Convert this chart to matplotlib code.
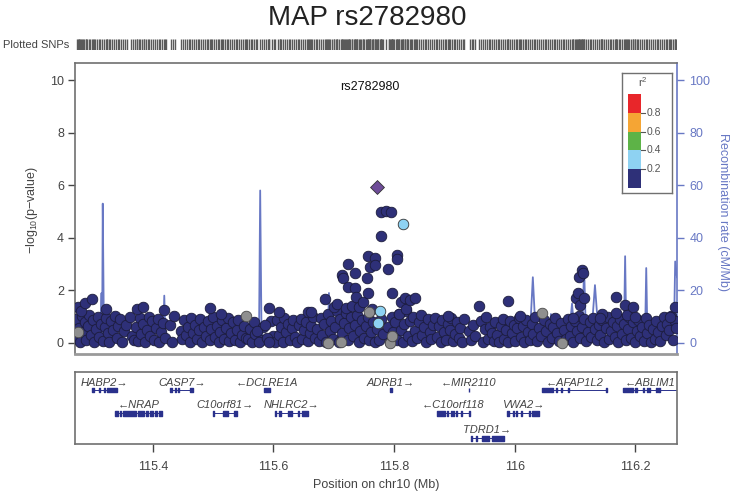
import numpy as np
import matplotlib
matplotlib.use('Agg')
import matplotlib.pyplot as plt

plt.rcParams['font.family'] = ['Liberation Sans', 'DejaVu Sans']
plt.rcParams['mathtext.fontset'] = 'custom'
plt.rcParams['mathtext.rm'] = 'Liberation Sans'
plt.rcParams['mathtext.it'] = 'Liberation Sans:italic'

# ---- data ----
lead_name = 'rs2782980'
lead_pos = 115.771
lead_logp = 5.92

# r2 < 0.2 SNPs (bulk, low signal)
base_pos = [115.272, 115.274, 115.277, 115.279, 115.282, 115.285, 115.287, 115.290, 115.292, 115.295,
            115.298, 115.301, 115.303, 115.306, 115.309, 115.311, 115.314, 115.317, 115.320, 115.323,
            115.326, 115.328, 115.331, 115.334, 115.337, 115.340, 115.343, 115.346, 115.349, 115.352,
            115.355, 115.363, 115.366, 115.369,
            115.372, 115.375, 115.378, 115.381, 115.384, 115.387, 115.390, 115.393, 115.396, 115.399,
            115.402, 115.405, 115.408, 115.411, 115.414, 115.417, 115.420, 115.429, 115.432, 115.435,
            115.446, 115.449, 115.452, 115.455, 115.458, 115.461, 115.464, 115.467,
            115.470, 115.473, 115.476, 115.479, 115.482, 115.485, 115.488, 115.491, 115.494, 115.497,
            115.500, 115.503, 115.506, 115.509, 115.512, 115.515, 115.518, 115.521, 115.524, 115.527,
            115.530, 115.533, 115.536, 115.539, 115.542, 115.545, 115.548, 115.551, 115.554,
            115.558, 115.561, 115.564, 115.567, 115.570, 115.580, 115.583, 115.596, 115.599, 115.602,
            115.572, 115.576, 115.586, 115.589, 115.592, 115.606, 115.609, 115.612, 115.615, 115.618,
            115.621, 115.624, 115.627, 115.630, 115.633, 115.636, 115.639, 115.642, 115.645, 115.648,
            115.651, 115.654, 115.657, 115.660, 115.663, 115.666, 115.669,
            115.672, 115.675, 115.678, 115.681, 115.684, 115.687, 115.690, 115.693, 115.696, 115.699,
            115.702, 115.705, 115.708, 115.711, 115.714, 115.717, 115.720, 115.723, 115.726, 115.729,
            115.732, 115.735, 115.738, 115.741, 115.744, 115.747, 115.750, 115.753, 115.756, 115.759,
            115.762, 115.765, 115.768,
            115.772, 115.775, 115.778, 115.781, 115.790, 115.793, 115.796, 115.799, 115.802, 115.805,
            115.808, 115.811, 115.814, 115.817, 115.820, 115.823, 115.826, 115.829, 115.832, 115.835,
            115.838, 115.841, 115.844, 115.847, 115.850, 115.853, 115.856, 115.859, 115.862, 115.865,
            115.868,
            115.871, 115.874, 115.877, 115.880, 115.883, 115.886, 115.889, 115.892, 115.895, 115.898,
            115.901, 115.904, 115.907, 115.910, 115.913, 115.916, 115.925, 115.928, 115.931, 115.934,
            115.944, 115.947, 115.950, 115.953, 115.956, 115.959, 115.962, 115.965, 115.968,
            115.971, 115.974, 115.977, 115.980, 115.983, 115.986, 115.989, 115.992, 115.995, 115.998,
            116.001, 116.004, 116.007, 116.010, 116.013, 116.016, 116.019, 116.022, 116.025, 116.028,
            116.031, 116.034, 116.037, 116.040, 116.043, 116.049, 116.052, 116.055, 116.058, 116.061,
            116.064, 116.067,
            116.070, 116.073, 116.076, 116.082, 116.085, 116.088, 116.091, 116.094, 116.097, 116.100,
            116.103, 116.106, 116.109, 116.112, 116.115, 116.118, 116.121, 116.124, 116.127, 116.130,
            116.133, 116.136, 116.139, 116.142, 116.145, 116.148, 116.151, 116.154, 116.157, 116.160,
            116.163, 116.166,
            116.169, 116.172, 116.175, 116.178, 116.181, 116.184, 116.187, 116.190, 116.193, 116.196,
            116.199, 116.202, 116.205, 116.208, 116.211, 116.214, 116.217, 116.220, 116.223, 116.226,
            116.229, 116.232, 116.235, 116.238, 116.241, 116.244, 116.247, 116.250, 116.253, 116.256,
            116.259, 116.262, 116.265, 116.268]
base_logp = [0.92, 0.20, 0.58, 0.04, 1.02, 0.40, 0.78, 0.12, 0.66, 1.08,
             0.30, 0.88, 0.03, 0.52, 0.98, 0.22, 0.72, 0.06, 0.60, 0.94,
             0.36, 0.02, 0.84, 0.48, 1.04, 0.18, 0.64, 0.90, 0.05, 0.44,
             0.70, 0.98, 0.28, 0.10,
             0.62, 0.08, 0.96, 0.34, 0.74, 0.02, 0.50, 1.00, 0.26, 0.82,
             0.12, 0.56, 0.92, 0.04, 0.40, 0.76, 0.18, 0.68, 0.03, 1.02,
             0.46, 0.14, 0.86, 0.32, 0.62, 0.05, 0.96, 0.38,
             0.70, 0.15, 0.48, 0.90, 0.03, 0.60, 0.28, 0.84, 0.10, 0.54,
             0.98, 0.22, 0.66, 0.02, 0.42, 0.88, 0.16, 0.58, 0.94, 0.06,
             0.36, 0.78, 0.12, 0.50, 0.86, 0.04, 0.32, 0.64, 0.20,
             0.15, 0.55, 0.02, 0.80, 0.35, 0.10, 0.60, 0.85, 0.25, 0.05,
             0.45, 0.05, 0.70, 0.18, 0.02, 0.88, 0.30, 0.62, 0.04, 0.96,
             0.40, 0.74, 0.10, 0.56, 0.86, 0.24, 0.03, 0.68, 0.92, 0.14,
             0.48, 0.80, 0.06, 0.36, 0.66, 0.98, 0.20,
             0.52, 0.08, 0.94, 0.30, 0.72, 0.02, 1.10, 0.44, 0.84, 0.16,
             0.62, 1.20, 0.05, 0.90, 0.36, 0.76, 1.15, 0.12, 0.58, 0.98,
             0.26, 0.68, 1.05, 0.04, 0.46, 0.86, 0.20, 0.64, 1.00, 0.10,
             0.40, 0.80, 0.02,
             0.55, 0.12, 0.90, 0.35, 0.62, 0.04, 0.98, 0.40, 0.80, 0.10,
             1.10, 0.50, 0.02, 0.72, 1.20, 0.28, 0.85, 0.06, 1.00, 0.46,
             0.18, 0.78, 1.05, 0.32, 0.60, 0.03, 0.92, 0.42, 0.14, 0.70,
             0.96,
             0.24, 0.66, 0.02, 0.88, 0.40, 0.12, 0.74, 0.50, 0.96, 0.06,
             0.34, 0.80, 0.18, 0.58, 0.04, 0.92, 0.44, 0.10, 0.70, 0.28,
             0.84, 0.02, 0.52, 0.98, 0.16, 0.62, 0.36, 0.08, 0.78,
             0.30, 0.04, 0.64, 0.92, 0.14, 0.48, 0.02, 0.82, 0.38, 0.70,
             0.08, 0.56, 0.96, 0.22, 0.66, 0.03, 0.86, 0.42, 0.12, 0.74,
             0.34, 0.98, 0.06, 0.58, 0.26, 0.88, 0.46, 0.02, 0.72, 0.18,
             0.62, 0.94,
             0.36, 0.08, 0.76, 0.50, 0.14, 0.92, 0.28, 0.66, 0.03, 0.84,
             0.44, 1.02, 0.18, 0.60, 0.90, 0.06, 0.40, 0.78, 0.22, 0.96,
             0.52, 0.10, 0.70, 0.32, 0.88, 0.02, 0.58, 0.98, 0.16, 0.46,
             0.80, 0.24,
             0.64, 0.05, 0.90, 0.34, 0.72, 0.12, 0.54, 1.00, 0.20, 0.80,
             0.03, 0.46, 0.86, 0.26, 0.60, 0.08, 0.94, 0.38, 0.70, 0.02,
             0.52, 0.16, 0.82, 0.42, 0.06, 0.66, 0.98, 0.30, 0.74, 0.48,
             1.04, 0.12, 0.84, 0.56]

# r2 < 0.2 SNPs standing above the bulk
hi_pos = [115.276, 115.281, 115.288, 115.299, 115.323, 115.373, 115.384, 115.418, 115.495, 115.513,
          115.592, 115.609, 115.658, 115.662, 115.686, 115.700, 115.705, 115.713, 115.716, 115.721,
          115.724, 115.724, 115.730, 115.735, 115.736, 115.737, 115.742, 115.748, 115.755, 115.756,
          115.757, 115.760, 115.764, 115.768, 115.769, 115.778, 115.779, 115.786, 115.795, 115.790,
          115.797, 115.804, 115.804, 115.808, 115.812, 115.818, 115.820, 115.827, 115.834, 115.890,
          115.940, 115.989, 116.009, 116.096, 116.102, 116.105, 116.107, 116.108, 116.111, 116.113,
          116.115, 116.144, 116.142, 116.168, 116.168, 116.183, 116.186, 116.196, 116.200, 116.258,
          116.265]
hi_logp = [1.35, 1.20, 1.52, 1.66, 1.29, 1.28, 1.38, 1.25, 1.32, 1.10,
           1.32, 1.17, 1.17, 1.19, 1.66, 1.35, 1.50, 2.59, 2.46, 1.32,
           2.99, 2.14, 1.42, 2.65, 2.08, 1.76, 1.35, 1.55, 2.46, 1.89,
           3.32, 2.90, 1.30, 3.22, 2.95, 4.08, 5.00, 5.02, 5.00, 2.81,
           1.89, 3.36, 3.18, 1.10, 1.55, 1.70, 1.30, 1.65, 1.72, 1.04,
           1.41, 1.60, 1.03, 0.94, 1.70, 1.90, 2.50, 1.45, 2.76, 2.68,
           1.70, 1.10, 0.95, 1.74, 1.13, 1.44, 1.05, 1.37, 1.00, 1.00,
           1.38]

# no LD information
na_pos = [115.276, 115.555, 115.691, 115.712, 115.759, 115.794, 115.796, 116.046, 116.079]
na_logp = [0.40, 1.03, 0.01, 0.03, 1.19, 0.00, 0.27, 1.13, 0.00]

# 0.2 <= r2 < 0.4
ld2_pos = [115.814, 115.777, 115.773]
ld2_logp = [4.51, 1.23, 0.77]

# recombination rate (cM/Mb)
rec_pos = [115.271, 115.290, 115.305, 115.313, 115.315, 115.316, 115.317, 115.319, 115.340, 115.380,
           115.417, 115.419, 115.421, 115.450, 115.500, 115.540, 115.576, 115.578, 115.580, 115.582,
           115.620, 115.660, 115.690, 115.692, 115.694, 115.720, 115.725, 115.727, 115.729, 115.760,
           115.790, 115.809, 115.811, 115.813, 115.826, 115.828, 115.830, 115.880, 115.920, 115.960,
           116.000, 116.025, 116.030, 116.035, 116.058, 116.060, 116.062, 116.090, 116.095, 116.099,
           116.112, 116.115, 116.118, 116.127, 116.133, 116.139, 116.150, 116.181, 116.183, 116.185,
           116.216, 116.218, 116.220, 116.250, 116.264, 116.266, 116.269]
rec_rate = [1.0, 1.5, 2.0, 2.5, 19.0, 3.0, 53.0, 2.0, 1.0, 2.0,
            1.5, 18.0, 1.5, 0.8, 1.2, 0.8, 1.0, 58.0, 8.0, 1.0,
            0.5, 1.0, 2.0, 19.0, 2.0, 3.0, 6.0, 14.0, 3.0, 2.0,
            1.5, 2.0, 6.0, 2.0, 2.0, 6.0, 1.5, 1.0, 0.8, 1.2,
            1.0, 2.0, 25.0, 2.0, 2.0, 11.0, 2.0, 3.0, 15.0, 3.0,
            4.0, 29.0, 3.0, 3.0, 22.0, 3.0, 2.0, 2.0, 33.0, 2.0,
            2.0, 28.5, 2.0, 3.0, 5.0, 31.0, 25.0]

# genes
gene_names = ['HABP2', 'CASP7', 'DCLRE1A', 'ADRB1', 'MIR2110', 'AFAP1L2', 'ABLIM1',
              'NRAP', 'C10orf81', 'NHLRC2', 'C10orf118', 'VWA2', 'TDRD1']
gene_start = [115.300, 115.429, 115.584, 115.793, 115.9235, 116.045, 116.180,
              115.338, 115.500, 115.603, 115.871, 115.988, 115.927]
gene_end = [115.340, 115.467, 115.595, 115.796, 115.9245, 116.153, 116.300,
            115.415, 115.539, 115.658, 115.926, 116.041, 115.982]
gene_row = [0, 0, 0, 0, 0, 0, 0, 1, 1, 1, 1, 1, 2]
gene_strand = ['+', '+', '-', '+', '-', '-', '-', '-', '+', '+', '-', '+', '+']
gene_exons = [
    [(115.300, 115.302), (115.311, 115.313), (115.319, 115.321), (115.324, 115.340)],
    [(115.429, 115.431), (115.436, 115.438), (115.441, 115.443), (115.461, 115.467)],
    [(115.584, 115.595)],
    [(115.793, 115.796)],
    [(115.9235, 115.9245)],
    [(116.045, 116.064), (116.068, 116.070), (116.077, 116.079), (116.088, 116.090), (116.151, 116.153)],
    [(116.180, 116.196), (116.199, 116.202), (116.212, 116.214), (116.219, 116.221), (116.223, 116.225),
     (116.234, 116.236), (116.238, 116.240)],
    [(115.338, 115.343), (115.345, 115.347), (115.350, 115.372), (115.375, 115.385), (115.388, 115.392),
     (115.396, 115.400), (115.404, 115.407), (115.411, 115.415)],
    [(115.500, 115.502), (115.517, 115.525), (115.534, 115.539)],
    [(115.603, 115.605), (115.610, 115.612), (115.624, 115.626), (115.628, 115.630), (115.640, 115.642),
     (115.647, 115.658)],
    [(115.871, 115.884), (115.888, 115.890), (115.894, 115.896), (115.898, 115.900), (115.903, 115.905),
     (115.911, 115.913), (115.924, 115.926)],
    [(115.988, 115.990), (115.997, 115.999), (116.002, 116.004), (116.010, 116.012), (116.023, 116.025),
     (116.029, 116.041)],
    [(115.927, 115.929), (115.936, 115.938), (115.945, 115.958), (115.962, 115.982)],
]

x_ticks = [115.4, 115.6, 115.8, 116.0, 116.2]
x_ticklabels = ['115.4', '115.6', '115.8', '116', '116.2']
ld_breaks = [0.0, 0.2, 0.4, 0.6, 0.8, 1.0]
ld_colors = ['#2E3078', '#8ED2F2', '#5DB347', '#F5A534', '#E8262A']

# ---- layout ----
W, H = 735.0, 496.0
xlo, xhi = 115.271, 116.269
txt = '#444444'
frame = '#707070'
recol = '#6878C4'


def box(x0, y0, x1, y1):
    return [x0 / W, 1 - y1 / H, (x1 - x0) / W, (y1 - y0) / H]


fig = plt.figure(figsize=(7.35, 4.96), dpi=100)

fig.text(367 / W, 1 - 18 / H, 'MAP ' + lead_name, fontsize=20, ha='center', va='center', color='#222222')

# plotted SNPs strip
all_pos = np.concatenate([base_pos, hi_pos, na_pos, ld2_pos, [lead_pos]])
sax = fig.add_axes(box(76, 39, 677, 50))
sax.vlines(all_pos, 0, 1, color='#5a5a5a', lw=1.0)
sax.set_xlim(xlo, xhi)
sax.set_ylim(0, 1)
sax.axis('off')
fig.text(3 / W, 1 - 44.5 / H, 'Plotted SNPs', fontsize=8, ha='left', va='center', color=txt)

# main panel
ax = fig.add_axes(box(75, 63, 677, 354))
ax2 = ax.twinx()
ax.set_zorder(ax2.get_zorder() + 1)
ax.patch.set_visible(False)

ax2.plot(rec_pos, rec_rate, color=recol, lw=1.3, zorder=1)
ax2.set_ylim(-4.2, 106.5)
ax2.set_yticks([0, 20, 40, 60, 80, 100])
ax2.tick_params(axis='y', colors=recol, labelsize=9, length=5, width=1, pad=4)
for s in ['left', 'top', 'bottom']:
    ax2.spines[s].set_visible(False)
ax2.spines['right'].set_color(recol)
ax2.spines['right'].set_linewidth(1.2)

pt = dict(s=58, linewidths=0.6, zorder=3)
ax.scatter(base_pos, base_logp, c=ld_colors[0], edgecolors='#1c1c3c', **pt)
ax.scatter(hi_pos, hi_logp, c=ld_colors[0], edgecolors='#1c1c3c', **pt)
ax.scatter(na_pos, na_logp, c='#8f8f8f', edgecolors='#4a4a4a', **pt)
ax.scatter(ld2_pos, ld2_logp, c=ld_colors[1], edgecolors='#333333', **pt)
ax.scatter([lead_pos], [lead_logp], marker='D', s=50, c='#6E4C98', edgecolors='#333333',
           linewidths=0.6, zorder=4)
ax.text(115.760, 9.73, lead_name, fontsize=9, ha='center', va='center', color='#111111')

ax.set_xlim(xlo, xhi)
ax.set_ylim(-0.42, 10.65)
ax.set_xticks([])
ax.set_yticks([0, 2, 4, 6, 8, 10])
ax.tick_params(axis='y', colors=txt, labelsize=9, length=5, width=1, pad=3)
for s in ['left', 'top', 'bottom']:
    ax.spines[s].set_color(frame)
    ax.spines[s].set_linewidth(1.2)
ax.spines['bottom'].set_linewidth(2.0)
ax.spines['bottom'].set_color('#9a9a9a')
ax.spines['right'].set_visible(False)

fig.text(32 / W, 1 - 210 / H, '\u2212log$_{10}$(p\u2212value)', rotation=90, fontsize=9,
         ha='center', va='center', color=txt)
fig.text(723 / W, 1 - 212 / H, 'Recombination rate (cM/Mb)', rotation=-90, fontsize=9,
         ha='center', va='center', color=recol)

# r2 legend
lax = fig.add_axes(box(622, 73, 672, 193))
lax.set_xlim(0, 50)
lax.set_ylim(-0.053, 1.223)
for i, col in enumerate(ld_colors):
    lax.bar(12.5, ld_breaks[i + 1] - ld_breaks[i], bottom=ld_breaks[i], width=13, color=col,
            edgecolor='none')
for b in ld_breaks[1:-1]:
    lax.plot([19, 23], [b, b], color='#555555', lw=0.8)
    lax.text(25, b, '%.1f' % b, fontsize=7.5, ha='left', va='center', color='#555555')
lax.text(21, 1.13, 'r$^2$', fontsize=8, ha='center', va='center', color='#555555')
lax.set_xticks([])
lax.set_yticks([])
for s in lax.spines.values():
    s.set_color(frame)
    s.set_linewidth(1.0)

# gene panel
gax = fig.add_axes(box(75, 372, 677, 444))
gax.set_xlim(xlo, xhi)
gax.set_ylim(72, 0)
line_y = [18.0, 41.3, 66.3]
label_y = [10.7, 33.0, 58.0]
gcol = '#2A318C'
for i, name in enumerate(gene_names):
    r = gene_row[i]
    gax.plot([gene_start[i], gene_end[i]], [line_y[r], line_y[r]], color=gcol, lw=0.7)
    for e0, e1 in gene_exons[i]:
        gax.broken_barh([(e0, e1 - e0)], (line_y[r] - 2.3, 4.6), color=gcol)
    cx = (max(gene_start[i], xlo) + min(gene_end[i], xhi)) / 2
    lab = name + '\u2192' if gene_strand[i] == '+' else '\u2190' + name
    gax.text(cx, label_y[r], lab, fontsize=8, style='italic', ha='center', va='center', color=txt)
gax.set_yticks([])
gax.set_xticks(x_ticks)
gax.set_xticklabels(x_ticklabels)
gax.tick_params(axis='x', colors=txt, labelsize=9, length=6, width=1, pad=6)
for s in gax.spines.values():
    s.set_color(frame)
    s.set_linewidth(1.2)

fig.text(376 / W, 1 - 485 / H, 'Position on chr10 (Mb)', fontsize=9, ha='center', va='center', color=txt)

fig.savefig('out.png', dpi=100)
